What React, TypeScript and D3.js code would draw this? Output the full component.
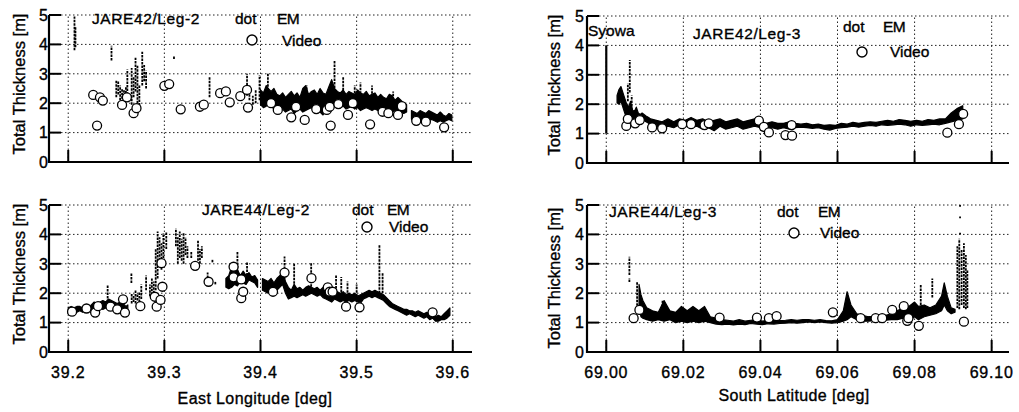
import React from 'react';
import * as d3 from 'd3';

type Seg = [number, number, number];
type Pt = [number, number];

// ---------- axes ----------
const yTickValues = [0, 1, 2, 3, 4, 5];
const lonTicks = [39.2, 39.3, 39.4, 39.5, 39.6];
const latTicks = [69.0, 69.02, 69.04, 69.06, 69.08, 69.1];
const lonDomain: [number, number] = [39.18, 39.62];
const latDomain: [number, number] = [68.995, 69.1045];

// ---------- JARE42 / Leg-2 (East Longitude) ----------
const leg42_2_bands: Seg[][] = [
  [
    [39.400, 1.95, 2.45], [39.403, 1.85, 2.35], [39.406, 1.9, 2.6], [39.408, 1.95, 2.5], [39.411, 1.9, 2.4],
    [39.414, 1.8, 2.5], [39.417, 1.85, 2.3], [39.420, 1.75, 2.25], [39.423, 1.8, 2.35], [39.426, 1.7, 2.2],
    [39.429, 1.75, 2.3], [39.432, 1.8, 2.4], [39.435, 1.65, 2.25], [39.438, 1.75, 2.35], [39.441, 1.8, 2.2],
    [39.444, 1.7, 2.5], [39.447, 1.75, 2.6], [39.450, 1.8, 2.3], [39.453, 1.85, 2.4], [39.456, 1.8, 2.45],
    [39.459, 1.75, 2.3], [39.462, 1.7, 2.5], [39.465, 1.6, 2.35], [39.468, 1.75, 2.3], [39.471, 1.85, 2.55],
    [39.474, 1.9, 2.8], [39.477, 1.95, 2.5], [39.480, 1.9, 2.4], [39.483, 1.85, 2.35], [39.486, 1.9, 2.45],
    [39.489, 1.8, 2.3], [39.492, 1.85, 2.4], [39.495, 1.9, 2.35], [39.498, 1.8, 2.3], [39.501, 1.85, 2.45],
    [39.504, 1.75, 2.35], [39.507, 1.8, 2.3], [39.510, 1.85, 2.4], [39.513, 1.8, 2.25], [39.516, 1.75, 2.3],
    [39.519, 1.8, 2.35], [39.522, 1.75, 2.2], [39.525, 1.8, 2.3], [39.528, 1.7, 2.2], [39.531, 1.75, 2.15],
    [39.534, 1.8, 2.3], [39.537, 1.7, 2.25], [39.540, 1.75, 2.1], [39.543, 1.65, 2.2], [39.546, 1.7, 2.1],
    [39.549, 1.65, 2.0], [39.552, 1.7, 1.95],
  ],
  [
    [39.557, 1.45, 1.75], [39.560, 1.4, 1.7], [39.563, 1.45, 1.65], [39.566, 1.4, 1.75], [39.569, 1.45, 1.7],
    [39.572, 1.35, 1.65], [39.575, 1.4, 1.75], [39.578, 1.45, 1.7], [39.581, 1.4, 1.65], [39.584, 1.35, 1.6],
    [39.587, 1.4, 1.7], [39.590, 1.35, 1.6], [39.593, 1.4, 1.55], [39.596, 1.45, 1.65], [39.599, 1.4, 1.6],
  ],
];
const leg42_2_spikes: Seg[] = [
  [39.2065, 3.8, 4.95], [39.2075, 3.9, 4.6], [39.245, 3.45, 3.95],
  [39.250, 2.2, 2.8], [39.252, 2.3, 2.75], [39.254, 2.1, 2.6], [39.256, 2.15, 2.5], [39.258, 2.0, 2.45],
  [39.260, 2.1, 2.55], [39.2615, 2.3, 3.15], [39.266, 1.95, 3.2], [39.268, 2.2, 2.9], [39.270, 2.4, 3.55],
  [39.272, 2.0, 3.3], [39.274, 1.8, 2.6], [39.277, 2.6, 3.75], [39.279, 2.75, 3.3], [39.281, 2.5, 3.1],
  [39.310, 3.5, 3.62], [39.347, 2.2, 2.9], [39.386, 2.25, 3.0], [39.3885, 2.1, 2.6], [39.392, 1.95, 2.25],
  [39.395, 2.0, 2.45], [39.399, 2.1, 2.95], [39.4077, 2.2, 3.0], [39.448, 2.1, 2.6], [39.477, 2.4, 3.47],
  [39.486, 2.2, 2.9], [39.498, 2.1, 2.6], [39.504, 2.2, 2.7], [39.516, 2.2, 2.6], [39.538, 2.0, 2.4],
];
const leg42_2_video: Pt[] = [
  [39.226, 2.28], [39.233, 2.2], [39.236, 2.09], [39.230, 1.24], [39.256, 1.94], [39.261, 2.2],
  [39.268, 1.66], [39.271, 1.83], [39.300, 2.59], [39.305, 2.65], [39.317, 1.79], [39.337, 1.88],
  [39.341, 1.95], [39.358, 2.34], [39.364, 2.4], [39.368, 2.03], [39.379, 2.24], [39.386, 2.45],
  [39.387, 1.85], [39.411, 2.0], [39.418, 1.77], [39.432, 1.52], [39.437, 1.88], [39.446, 1.43],
  [39.458, 1.8], [39.469, 1.77], [39.473, 1.24], [39.472, 1.88], [39.481, 1.97], [39.491, 1.6],
  [39.496, 2.0], [39.514, 1.28], [39.527, 1.71], [39.533, 1.66], [39.543, 1.6], [39.547, 1.9],
  [39.562, 1.4], [39.572, 1.37], [39.591, 1.18],
];

// ---------- JARE44 / Leg-2 (East Longitude) ----------
const leg44_2_bands: Seg[][] = [
  [
    [39.200, 1.3, 1.5], [39.203, 1.35, 1.55], [39.206, 1.3, 1.5], [39.209, 1.35, 1.55], [39.212, 1.4, 1.55],
    [39.215, 1.35, 1.5], [39.218, 1.4, 1.6], [39.221, 1.35, 1.55], [39.224, 1.45, 1.6], [39.227, 1.4, 1.7],
    [39.230, 1.45, 1.65], [39.233, 1.5, 1.7], [39.236, 1.45, 1.75], [39.239, 1.5, 1.7], [39.242, 1.45, 1.8],
    [39.245, 1.5, 1.75], [39.248, 1.4, 1.7], [39.251, 1.45, 1.65], [39.254, 1.4, 1.7], [39.257, 1.35, 1.65],
    [39.260, 1.3, 1.55], [39.262, 1.35, 1.6],
  ],
  [
    [39.364, 2.2, 2.5], [39.367, 2.15, 2.6], [39.370, 2.2, 2.9], [39.373, 2.3, 2.7], [39.376, 2.25, 2.8],
    [39.379, 2.4, 2.6], [39.382, 2.35, 2.75], [39.385, 2.3, 2.6], [39.388, 2.45, 2.7], [39.391, 2.4, 2.55],
    [39.394, 2.35, 2.6], [39.397, 2.2, 2.45],
  ],
  [
    [39.402, 2.1, 2.5], [39.405, 2.05, 2.45], [39.408, 2.0, 2.4], [39.411, 2.1, 2.5], [39.414, 2.05, 2.35],
    [39.417, 2.1, 2.5], [39.420, 2.2, 2.6], [39.423, 2.3, 2.7], [39.426, 2.0, 2.4], [39.429, 1.8, 2.2],
    [39.432, 1.85, 2.1], [39.435, 1.9, 2.3], [39.438, 1.85, 2.15], [39.441, 1.9, 2.2], [39.444, 1.95, 2.1],
    [39.447, 1.9, 2.2], [39.450, 1.95, 2.25], [39.453, 2.0, 2.2], [39.456, 1.95, 2.15], [39.459, 1.9, 2.2],
    [39.462, 1.95, 2.1], [39.465, 1.85, 2.2], [39.468, 1.8, 2.1], [39.471, 1.75, 2.15], [39.474, 1.7, 2.05],
    [39.477, 1.8, 2.1], [39.480, 1.75, 2.05], [39.483, 1.7, 2.0], [39.486, 1.75, 2.05], [39.489, 1.7, 1.95],
    [39.492, 1.75, 2.0], [39.495, 1.7, 1.95], [39.498, 1.75, 2.0], [39.501, 1.7, 1.9], [39.504, 1.65, 1.95],
    [39.507, 1.8, 2.0], [39.510, 1.85, 2.05], [39.513, 1.9, 2.1], [39.516, 1.85, 2.05], [39.519, 1.9, 2.1],
    [39.522, 1.85, 2.05], [39.525, 1.8, 2.0], [39.528, 1.75, 1.95], [39.531, 1.65, 1.85], [39.534, 1.55, 1.75],
    [39.537, 1.5, 1.65], [39.540, 1.45, 1.6], [39.543, 1.4, 1.55], [39.546, 1.35, 1.5], [39.549, 1.3, 1.45],
    [39.552, 1.25, 1.45], [39.555, 1.3, 1.4], [39.558, 1.25, 1.4], [39.561, 1.2, 1.35], [39.564, 1.25, 1.4],
    [39.567, 1.2, 1.35], [39.570, 1.15, 1.3], [39.573, 1.2, 1.35], [39.576, 1.1, 1.3], [39.579, 1.15, 1.25],
    [39.582, 1.05, 1.2], [39.585, 1.05, 1.25], [39.588, 1.1, 1.2], [39.591, 1.1, 1.3], [39.594, 1.15, 1.4],
    [39.597, 1.25, 1.5],
  ],
];
const leg44_2_spikes: Seg[] = [
  [39.241, 1.7, 2.28], [39.2657, 2.35, 2.7], [39.266, 1.65, 2.0], [39.268, 1.7, 1.95], [39.270, 1.65, 2.1],
  [39.272, 1.75, 2.0], [39.274, 1.7, 2.05], [39.276, 1.8, 2.3], [39.281, 2.1, 2.6], [39.285, 1.9, 2.3],
  [39.287, 1.95, 2.5], [39.289, 2.0, 2.4], [39.291, 2.1, 3.5], [39.293, 2.5, 4.1], [39.295, 3.0, 3.9],
  [39.297, 2.8, 3.7], [39.299, 3.2, 4.05], [39.302, 3.5, 4.1], [39.312, 3.6, 4.2], [39.314, 3.0, 3.9],
  [39.316, 3.2, 4.1], [39.318, 3.1, 3.85], [39.320, 3.0, 4.05], [39.322, 3.3, 3.9], [39.324, 3.2, 3.6],
  [39.328, 3.2, 3.4], [39.335, 3.1, 3.8], [39.337, 3.0, 3.5], [39.339, 3.2, 3.6], [39.345, 2.4, 2.7],
  [39.350, 3.05, 3.15], [39.353, 2.3, 2.4], [39.376, 2.6, 3.4], [39.386, 2.6, 3.05], [39.425, 2.35, 3.25],
  [39.435, 2.2, 3.0], [39.4527, 2.1, 3.05], [39.4786, 1.8, 2.6], [39.484, 1.8, 2.55], [39.4905, 1.9, 2.4],
  [39.500, 1.9, 2.3], [39.5237, 2.0, 3.63], [39.527, 2.0, 2.7],
];
const leg44_2_video: Pt[] = [
  [39.204, 1.37], [39.219, 1.48], [39.228, 1.34], [39.231, 1.56], [39.244, 1.54], [39.251, 1.45],
  [39.259, 1.34], [39.257, 1.79], [39.275, 1.56], [39.290, 1.88], [39.292, 1.54], [39.296, 1.77],
  [39.298, 2.22], [39.297, 3.02], [39.332, 2.93], [39.346, 2.39], [39.372, 2.9], [39.372, 2.54],
  [39.380, 2.47], [39.380, 1.83], [39.382, 2.05], [39.413, 2.05], [39.425, 2.7], [39.453, 2.51],
  [39.470, 2.2], [39.472, 2.05], [39.475, 2.05], [39.489, 1.54], [39.503, 1.52], [39.579, 1.35],
];

// ---------- JARE42 / Leg-3 (South Latitude) ----------
const syowaMarker: Seg[] = [[69.0, 1.0, 4.0]];
const leg42_3_bands: Seg[][] = [
  [
    [69.0028, 2.05, 2.3], [69.0033, 2.0, 2.5], [69.0038, 2.1, 2.6], [69.0043, 1.9, 2.4], [69.0048, 1.7, 2.2],
    [69.0053, 1.5, 2.0], [69.0058, 1.4, 1.9], [69.0063, 1.3, 2.1], [69.0068, 1.35, 1.8], [69.0073, 1.3, 1.75],
    [69.0078, 1.35, 1.9], [69.0083, 1.4, 1.7], [69.0088, 1.45, 1.65], [69.0093, 1.4, 1.7], [69.0098, 1.45, 1.65],
    [69.0103, 1.4, 1.6], [69.011, 1.35, 1.55], [69.0115, 1.2, 1.5], [69.013, 1.25, 1.45], [69.0145, 1.15, 1.4],
    [69.016, 1.25, 1.5], [69.0175, 1.2, 1.4], [69.019, 1.3, 1.5], [69.0205, 1.25, 1.45], [69.022, 1.2, 1.55],
    [69.0235, 1.25, 1.45], [69.025, 1.15, 1.5], [69.0265, 1.2, 1.4], [69.028, 1.1, 1.45], [69.0295, 1.25, 1.5],
    [69.031, 1.15, 1.4], [69.0325, 1.2, 1.45], [69.034, 1.25, 1.5], [69.0355, 1.15, 1.4], [69.037, 1.2, 1.45],
    [69.0385, 1.25, 1.5], [69.04, 1.2, 1.4], [69.0415, 1.15, 1.35], [69.043, 1.2, 1.4], [69.0445, 1.15, 1.35],
    [69.046, 1.2, 1.35], [69.0475, 1.15, 1.4], [69.049, 1.2, 1.35], [69.0505, 1.22, 1.32], [69.052, 1.2, 1.35],
    [69.0535, 1.18, 1.3], [69.055, 1.2, 1.32], [69.0565, 1.15, 1.28], [69.058, 1.12, 1.3], [69.0595, 1.18, 1.28],
    [69.061, 1.2, 1.35], [69.0625, 1.22, 1.32], [69.064, 1.25, 1.38], [69.0655, 1.22, 1.35], [69.067, 1.25, 1.38],
    [69.0685, 1.28, 1.4], [69.07, 1.25, 1.38], [69.0715, 1.3, 1.42], [69.073, 1.28, 1.45], [69.0745, 1.3, 1.42],
    [69.076, 1.32, 1.48], [69.0775, 1.3, 1.45], [69.079, 1.25, 1.42], [69.0805, 1.3, 1.45], [69.082, 1.28, 1.42],
    [69.0835, 1.3, 1.48], [69.085, 1.32, 1.45], [69.0865, 1.3, 1.5], [69.088, 1.35, 1.5], [69.0895, 1.4, 1.7],
    [69.091, 1.45, 1.85], [69.0925, 1.5, 1.95],
  ],
];
const leg42_3_spikes: Seg[] = [[69.0061, 2.4, 3.5], [69.0056, 2.1, 2.7], [69.0066, 1.8, 2.3]];
const leg42_3_video: Pt[] = [
  [69.0052, 1.26], [69.0056, 1.5], [69.0075, 1.35], [69.0087, 1.46], [69.0119, 1.21], [69.0145, 1.18],
  [69.0197, 1.32], [69.022, 1.32], [69.0255, 1.29], [69.0266, 1.35], [69.0396, 1.44], [69.0409, 1.23],
  [69.0422, 1.04], [69.0465, 0.95], [69.0482, 0.93], [69.0481, 1.29], [69.0885, 1.03], [69.0915, 1.32],
  [69.0926, 1.67],
];

// ---------- JARE44 / Leg-3 (South Latitude) ----------
const leg44_3_bands: Seg[][] = [
  [
    [69.0085, 1.5, 2.3], [69.009, 1.2, 1.95], [69.0095, 1.15, 1.75], [69.0105, 1.1, 1.5], [69.012, 1.05, 1.4],
    [69.0135, 1.1, 1.35], [69.015, 1.05, 1.75], [69.0165, 1.1, 1.4], [69.018, 1.0, 1.35], [69.0195, 1.05, 1.55],
    [69.021, 1.0, 1.4], [69.0225, 1.05, 1.55], [69.024, 1.0, 1.4], [69.0255, 1.05, 1.55], [69.027, 1.0, 1.2],
    [69.0285, 0.95, 1.15], [69.03, 0.93, 1.1], [69.0315, 0.95, 1.08], [69.033, 0.92, 1.05], [69.0345, 0.95, 1.1],
    [69.036, 0.93, 1.05], [69.0375, 0.97, 1.08], [69.039, 0.95, 1.1], [69.0405, 0.93, 1.05], [69.042, 0.96, 1.08],
    [69.0435, 0.95, 1.1], [69.045, 0.97, 1.07], [69.0465, 0.98, 1.08], [69.048, 1.0, 1.1], [69.0495, 0.98, 1.08],
    [69.051, 1.0, 1.1], [69.0525, 1.02, 1.1], [69.054, 1.0, 1.08], [69.0555, 1.02, 1.1], [69.057, 1.0, 1.07],
    [69.0585, 0.98, 1.06], [69.06, 1.0, 1.1], [69.0615, 1.05, 1.4], [69.0625, 1.1, 2.05], [69.0635, 1.2, 1.6],
    [69.065, 1.1, 1.3], [69.0665, 1.05, 1.25], [69.068, 1.05, 1.2], [69.0695, 1.07, 1.2], [69.071, 1.05, 1.22],
    [69.0725, 1.08, 1.25], [69.074, 1.1, 1.3], [69.0755, 1.1, 1.4], [69.077, 1.15, 1.5], [69.0785, 1.05, 1.55],
    [69.08, 1.2, 1.7], [69.081, 1.1, 1.55], [69.0825, 1.2, 1.6], [69.084, 1.25, 1.5], [69.0855, 1.3, 1.6],
    [69.087, 1.4, 1.9], [69.0877, 1.6, 2.35], [69.0885, 1.4, 1.9], [69.0895, 1.3, 1.5], [69.0905, 1.35, 1.45],
  ],
];
const leg44_3_spikes: Seg[] = [
  [69.006, 2.62, 3.24], [69.006, 2.38, 2.52], [69.008, 1.45, 2.39], [69.0146, 1.3, 1.77], [69.0816, 1.6, 2.3],
  [69.0846, 1.85, 2.5], [69.0911, 1.5, 3.6], [69.0916, 1.45, 3.85], [69.0922, 1.6, 3.5], [69.0928, 1.5, 3.7],
  [69.0933, 1.45, 3.3], [69.0937, 1.5, 2.8], [69.0918, 4.0, 4.06], [69.0918, 4.55, 4.61], [69.0918, 4.94, 5.0],
];
const leg44_3_video: Pt[] = [
  [69.0071, 1.15], [69.0086, 1.43], [69.0294, 1.17], [69.0391, 1.17], [69.0422, 1.15], [69.0442, 1.22],
  [69.0588, 1.35], [69.066, 1.15], [69.0699, 1.15], [69.0716, 1.15], [69.0742, 1.43], [69.0772, 1.56],
  [69.0781, 1.06], [69.0784, 1.15], [69.0811, 0.89], [69.0928, 1.03],
];

// ---------- texts ----------
const yAxisTitle = 'Total Thickness [m]';
const lonTitle = 'East Longitude [deg]';
const latTitle = 'South Latitude [deg]';

const FONT = '"Liberation Sans", Arial, sans-serif';
const txt = { fontFamily: FONT, fill: '#000', stroke: '#000', strokeWidth: 0.35 };

type PanelProps = {
  x0: number; x1: number; yTop: number; yBot: number;
  domain: [number, number]; ticks: number[]; fmt: (v: number) => string; showX: boolean;
  bands: Seg[][]; spikes: Seg[]; video: Pt[]; solid?: Seg[];
  title: string; titleX: number; titleY: number;
  dotX: number; emX: number; legY: number; circX: number; circY: number; videoX: number; videoY: number;
  yTitleX: number; yTitleY: number; yLabelX: number;
  syowa?: { x: number; y: number };
};

function Panel(p: PanelProps) {
  const xs = d3.scaleLinear().domain(p.domain).range([p.x0, p.x1]);
  const ys = d3.scaleLinear().domain([0, 5]).range([p.yBot, p.yTop]);
  const area = d3.area<Seg>().x(d => xs(d[0])).y0(d => ys(d[1])).y1(d => ys(d[2]));
  const grid = { stroke: '#222', strokeWidth: 1, strokeDasharray: '1.5 2.5' };
  return (
    <g>
      {yTickValues.filter(v => v > 0).map(v => (
        <line key={'gy' + v} x1={p.x0} x2={p.x1} y1={ys(v)} y2={ys(v)} {...grid} />
      ))}
      {p.ticks.map(t => (
        <line key={'gx' + t} x1={xs(t)} x2={xs(t)} y1={p.yBot} y2={p.yTop} {...grid} />
      ))}
      {p.bands.map((b, i) => (
        <path key={'b' + i} d={area(b) || ''} fill="#000" stroke="#000" strokeWidth={1.2} strokeLinejoin="round" />
      ))}
      {p.spikes.map((s, i) => (
        <line key={'s' + i} x1={xs(s[0])} x2={xs(s[0])} y1={ys(s[1])} y2={ys(s[2])}
          stroke="#000" strokeWidth={1.8} strokeDasharray="2.5 1" />
      ))}
      {(p.solid || []).map((s, i) => (
        <line key={'so' + i} x1={xs(s[0])} x2={xs(s[0])} y1={ys(s[1])} y2={ys(s[2])} stroke="#000" strokeWidth={2.2} />
      ))}
      {p.video.map((v, i) => (
        <circle key={'v' + i} cx={xs(v[0])} cy={ys(v[1])} r={4.5} fill="#fff" stroke="#000" strokeWidth={1.3} />
      ))}
      {/* axes */}
      <line x1={p.x0} x2={p.x0} y1={p.yTop} y2={p.yBot + 1} stroke="#000" strokeWidth={2.2} />
      <line x1={p.x0} x2={p.x1} y1={p.yBot} y2={p.yBot} stroke="#000" strokeWidth={2.2} />
      {yTickValues.map(v => (
        <line key={'ty' + v} x1={p.x0} x2={p.x0 + 12} y1={ys(v)} y2={ys(v)} stroke="#000" strokeWidth={2} />
      ))}
      {p.ticks.map(t => (
        <line key={'tx' + t} x1={xs(t)} x2={xs(t)} y1={p.yBot} y2={p.yBot - 12} stroke="#000" strokeWidth={2} />
      ))}
      {yTickValues.map(v => (
        <text key={'ly' + v} x={p.yLabelX} y={ys(v)} dy="0.36em" textAnchor="end" fontSize={16} {...txt}>{v}</text>
      ))}
      {p.showX && p.ticks.map(t => (
        <text key={'lx' + t} x={xs(t)} y={p.yBot + 26} textAnchor="middle" fontSize={16} letterSpacing={0.8} {...txt}>{p.fmt(t)}</text>
      ))}
      <text transform={`translate(${p.yTitleX},${p.yTitleY}) rotate(-90)`} textAnchor="middle" fontSize={16.5} {...txt}>{yAxisTitle}</text>
      <text x={p.titleX} y={p.titleY} fontSize={15.5} letterSpacing={0.6} {...txt}>{p.title}</text>
      {p.syowa && <text x={p.syowa.x} y={p.syowa.y} fontSize={15.5} {...txt}>Syowa</text>}
      <text x={p.dotX} y={p.legY} fontSize={15.5} {...txt}>dot</text>
      <text x={p.emX} y={p.legY} fontSize={15.5} letterSpacing={-0.5} {...txt}>EM</text>
      <circle cx={p.circX} cy={p.circY} r={5} fill="#fff" stroke="#000" strokeWidth={1.4} />
      <text x={p.videoX} y={p.videoY} fontSize={15.5} {...txt}>Video</text>
    </g>
  );
}

export default function App() {
  const f1 = d3.format('.1f');
  const f2 = d3.format('.2f');
  return (
    <svg width={1019} height={412} style={{ position: 'absolute', left: 0, top: 0, background: '#fff' }}>
      <rect width={1019} height={412} fill="#fff" />
      <Panel x0={49} x1={472} yTop={15} yBot={162} domain={lonDomain} ticks={lonTicks} fmt={f1} showX={false}
        bands={leg42_2_bands} spikes={leg42_2_spikes} video={leg42_2_video}
        title="JARE42/Leg-2" titleX={92} titleY={24} dotX={235} emX={277} legY={24}
        circX={252} circY={40} videoX={282} videoY={46}
        yTitleX={25} yTitleY={84} yLabelX={48} />
      <Panel x0={49} x1={472} yTop={205} yBot={352} domain={lonDomain} ticks={lonTicks} fmt={f1} showX={true}
        bands={leg44_2_bands} spikes={leg44_2_spikes} video={leg44_2_video}
        title="JARE44/Leg-2" titleX={202} titleY={215} dotX={352} emX={387} legY={215}
        circX={367} circY={227} videoX={389} videoY={232}
        yTitleX={25} yTitleY={274} yLabelX={48} />
      <Panel x0={587} x1={1009} yTop={16} yBot={163} domain={latDomain} ticks={latTicks} fmt={f2} showX={false}
        bands={leg42_3_bands} spikes={leg42_3_spikes} video={leg42_3_video} solid={syowaMarker}
        title="JARE42/Leg-3" titleX={693} titleY={39} dotX={843} emX={883} legY={32}
        circX={862} circY={52} videoX={890} videoY={57}
        yTitleX={560} yTitleY={85} yLabelX={584} syowa={{ x: 588, y: 36 }} />
      <Panel x0={587} x1={1009} yTop={205} yBot={352} domain={latDomain} ticks={latTicks} fmt={f2} showX={true}
        bands={leg44_3_bands} spikes={leg44_3_spikes} video={leg44_3_video}
        title="JARE44/Leg-3" titleX={609} titleY={217} dotX={777} emX={818} legY={217}
        circX={794} circY={233} videoX={820} videoY={238}
        yTitleX={560} yTitleY={278} yLabelX={584} />
      <text x={255} y={404} textAnchor="middle" fontSize={16} letterSpacing={0.4} {...txt}>{lonTitle}</text>
      <text x={794} y={401} textAnchor="middle" fontSize={16} letterSpacing={0.4} {...txt}>{latTitle}</text>
    </svg>
  );
}
